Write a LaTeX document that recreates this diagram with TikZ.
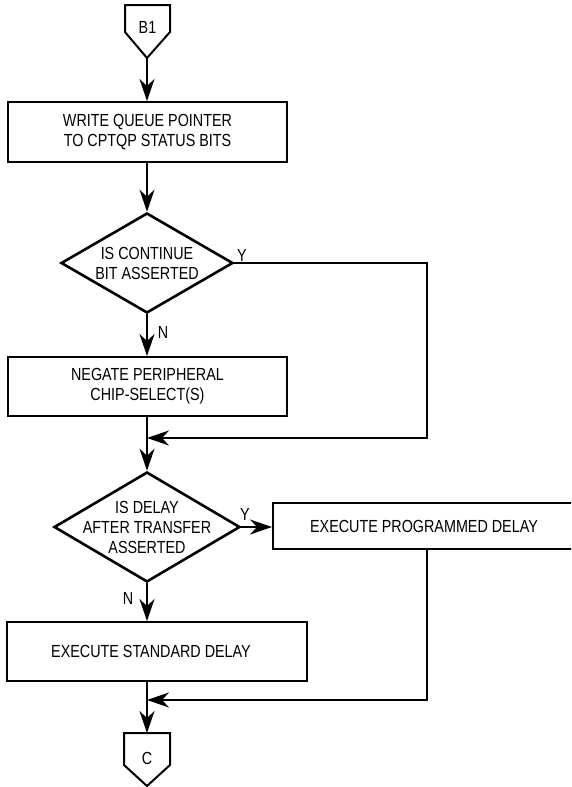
\documentclass[tikz,border=0pt]{standalone}
\usepackage{fontspec}
\setmainfont{Liberation Sans}[FakeStretch=0.82]
\usetikzlibrary{arrows.meta,shapes.geometric}
\begin{document}
\begin{tikzpicture}[x=1pt,y=-1pt,
  txt/.style={font=\fontsize{17.5}{20}\selectfont,align=center,inner sep=0pt},
  box/.style={draw,line width=2pt,inner sep=0pt,font=\fontsize{17.5}{20}\selectfont,align=center},
  dec/.style={draw,diamond,line width=2.6pt,inner sep=0pt},
  conn/.style={line width=2pt,line join=miter},
  flow/.style={line width=2pt,-{Stealth[length=22pt,width=15pt,inset=7pt]}},
  plain/.style={line width=2pt}]
\useasboundingbox (0,0) rectangle (571,787);
\clip (0,0) rectangle (571,787);

% off-page connector B1
\draw[conn] (125,5) -- (170,5) -- (170,32) -- (147,58) -- (125,32) -- cycle;
\node[txt] (b1) at (147.5,27) {B1};
\coordinate (b1tip) at (147,58);

% boxes
\node[box,minimum width=279pt,minimum height=60pt] (box1) at (147.5,132) {WRITE QUEUE POINTER\\TO CPTQP STATUS BITS};
\node[dec,minimum width=172pt,minimum height=100pt] (d1) at (147,263) {};
\node[txt] (d1t) at (147,263) {IS CONTINUE\\BIT ASSERTED};
\node[box,minimum width=279pt,minimum height=59pt] (box2) at (147.5,386.5) {NEGATE PERIPHERAL\\CHIP-SELECT(S)};
\node[dec,minimum width=186pt,minimum height=110pt] (d2) at (147,527) {};
\node[txt] (d2t) at (147,527) {IS DELAY\\AFTER TRANSFER\\ASSERTED};
\node[box,minimum width=302pt,minimum height=46pt] (box3) at (424,526) {EXECUTE PROGRAMMED DELAY};
\node[box,minimum width=300pt,minimum height=59pt] (box4) at (157,651.5) {};
\node[txt] (box4t) at (151,651.5) {EXECUTE STANDARD DELAY};

% off-page connector C
\draw[conn] (124,733) -- (170,733) -- (170,765) -- (147,786) -- (124,765) -- cycle;
\node[txt] (c) at (147,758) {C};
\coordinate (ctop) at (147,733);

% junctions
\coordinate (c1) at (427,438);
\coordinate (j1) at (147,438);
\coordinate (c2) at (427,700);
\coordinate (j2) at (147,700);

% connectors
\draw[flow] (b1tip) -- (b1tip |- box1.north);
\draw[flow] (b1tip |- box1.south) -- (d1.north);
\draw[flow] (d1.east) -| (c1) -- (j1);
\draw[flow] (d1.south) -- (d1.south |- box2.north);
\draw[flow] (d1.south |- box2.south) -- (d2.north);
\draw[flow] (d2.east) -- (d2.east -| box3.west);
\draw[flow] (c2 |- box3.south) -- (c2) -- (j2);
\draw[flow] (d2.south) -- (d2.south |- box4.north);
\draw[flow] (ctop |- box4.south) -- (ctop);

% labels
\node[txt] (y1) at (242,255) {Y};
\node[txt] (n1) at (163,332) {N};
\node[txt] (y2) at (245,514) {Y};
\node[txt] (n2) at (128,598) {N};
\end{tikzpicture}
\end{document}
